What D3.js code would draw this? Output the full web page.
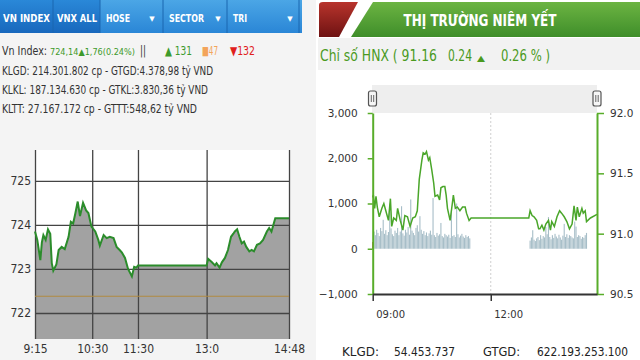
<!DOCTYPE html>
<html lang="vi">
  <head>
    <meta charset="UTF-8" />
    <title>VN Index - HNX</title>
    <script src="https://d3js.org/d3.v7.min.js"></script>
    <style>
      body { margin: 0; background: #fff; }
      svg { display: block; font-family: "DejaVu Sans", sans-serif; }
      .cond { font-family: "Liberation Sans Narrow", "DejaVu Sans Condensed", "DejaVu Sans", sans-serif; font-stretch: condensed; }
    </style>
  </head>
  <body>
    <div id="chart-container"></div>

    <script>
      // ---- VN Index (left chart) ----
      const vnTimes = ["9:15","9:18","9:22","9:24","9:26","9:29","9:32","9:35","9:37","9:39","9:43","9:46","9:50","9:54","9:59","10:02","10:05","10:08","10:11","10:14","10:18","10:22","10:25","10:29","10:34","10:38","10:40","10:45","10:49","10:53","10:58","11:02","11:06","11:09","11:13","11:17","11:22","11:25","11:28","11:30","13:00","13:02","13:07","13:11","13:13","13:17","13:20","13:24","13:28","13:32","13:35","13:37","13:40","13:43","13:46","13:49","13:52","13:56","13:59","14:02","14:06","14:10","14:14","14:19","14:22","14:25","14:30","14:48"];
      const vnValues = [723.85,723.66,723.2,723.6,723.77,723.66,723.9,723.8,723.13,722.96,723.1,723.43,723.5,723.45,723.73,724.07,724.03,724.27,724.53,724.2,724.5,724.33,724.27,723.96,723.85,723.66,723.53,723.77,723.7,723.73,723.7,723.5,723.43,723.37,723.25,723.0,722.83,723.05,723.03,723.08,723.08,723.23,723.15,723.08,723.13,723.03,723.15,723.25,723.43,723.73,723.8,723.85,723.9,723.73,723.58,723.62,723.5,723.4,723.43,723.4,723.55,723.58,723.66,723.85,723.93,723.85,724.15,724.15];
      const vnRef = 722.38;
      const vnYTicks = [722, 723, 724, 725];
      const vnXTicks = ["9:15", "10:30", "11:30", "13:00", "14:48"];
      const vnXLabels = ["9:15", "10:30", "11:30", "13:0", "14:48"];

      // ---- HNX (right chart) ----
      const hnxTimes = ["9:00","9:01","9:03","9:05","9:07","9:10","9:14","9:17","9:20","9:24","9:27","9:29","9:32","9:36","9:38","9:42","9:46","9:49","9:53","9:57","10:01","10:05","10:08","10:11","10:15","10:17","10:20","10:22","10:25","10:27","10:30","10:33","10:35","10:39","10:42","10:44","10:47","10:50","10:52","10:54","10:58","11:00","11:03","11:06","11:09","11:13","11:17","11:21","11:23","11:27","11:30","12:58","13:00","13:03","13:06","13:10","13:13","13:15","13:18","13:21","13:24","13:28","13:31","13:33","13:37","13:41","13:45","13:48","13:52","13:56","14:00","14:04","14:07","14:10","14:12","14:15","14:19","14:21","14:24","14:26","14:32","14:42"];
      const hnxValues = [91.30,91.32,91.21,91.31,91.22,91.14,91.21,91.25,91.19,91.11,91.29,91.06,91.13,91.11,91.21,91.11,91.03,91.15,91.14,91.06,91.13,91.14,91.19,91.45,91.61,91.67,91.66,91.68,91.61,91.63,91.53,91.42,91.31,91.32,91.28,91.38,91.39,91.39,91.32,91.21,91.11,91.19,91.32,91.21,91.22,91.19,91.22,91.22,91.17,91.11,91.13,91.13,91.19,91.15,91.14,91.11,91.04,91.04,91.07,91.03,91.08,91.11,91.03,91.10,91.06,91.14,91.19,91.17,91.14,91.10,91.04,91.08,91.23,91.11,91.22,91.14,91.21,91.17,91.19,91.10,91.13,91.16];
      // volume, one bar every 2 minutes from the session start
      const volMorningStart = "9:00";
      const volMorning = [150,380,300,420,350,280,460,390,640,330,410,300,370,1000,450,320,280,400,350,460,300,380,940,340,290,420,360,480,310,1090,400,350,300,460,520,380,720,420,330,390,300,360,280,340,400,310,1120,300,260,350,290,320,570,280,250,330,300,270,310,240,850,280,300,260,1000,320,250,290,330,270,240,300,260,280,230];
      const volAfternoonStart = "13:00";
      const volAfternoon = [180,250,410,200,170,230,260,190,300,220,280,250,480,320,700,260,210,300,240,330,270,230,310,250,200,290,550,260,320,240,300,280,250,230,600,490,260,300,280,220,260,240,300,350];
      const volStep = 2;
      const volTicks = [-1000, 0, 1000, 2000, 3000];
      const hnxTicks = [90.5, 91.0, 91.5, 92.0];
      const hnxXTicks = ["9:00", "12:00"];
      const hnxXLabels = ["09:00", "12:00"];

      const parseTime = d3.timeParse("%H:%M");

      const svg = d3
        .select("#chart-container")
        .append("svg")
        .attr("width", 640)
        .attr("height", 360);

      const defs = svg.append("defs");
      function vGrad(id, top, bottom) {
        const g = defs.append("linearGradient").attr("id", id)
          .attr("x1", 0).attr("y1", 0).attr("x2", 0).attr("y2", 1);
        g.append("stop").attr("offset", "0%").attr("stop-color", top);
        g.append("stop").attr("offset", "100%").attr("stop-color", bottom);
      }
      vGrad("blueBar", "#4ba6e6", "#2a86d6");
      vGrad("blueTab", "#2a88d8", "#1868bd");
      vGrad("greenBar", "#6cb442", "#3f8e2a");
      vGrad("redTab", "#b8342c", "#6e1212");

      // ===== LEFT PANEL =====
      svg.append("rect").attr("x", 0).attr("y", 0).attr("width", 316).attr("height", 360).attr("fill", "#f4f4f4");

      // tab bar
      svg.append("rect").attr("x", 0).attr("y", 0).attr("width", 302).attr("height", 33).attr("fill", "url(#blueBar)");
      svg.append("rect").attr("x", 0).attr("y", 0).attr("width", 100).attr("height", 33).attr("fill", "url(#blueTab)");
      [53, 100, 163, 227, 299].forEach((sx) => {
        svg.append("line").attr("x1", sx).attr("x2", sx).attr("y1", 0).attr("y2", 33)
          .attr("stroke", "#1a66b0").attr("stroke-width", 1);
      });
      const tabs = [
        { t: "VN INDEX", x: 3, w: 47 },
        { t: "VNX ALL", x: 57, w: 40 },
        { t: "HOSE", x: 106, w: 24 },
        { t: "SECTOR", x: 169, w: 35 },
        { t: "TRI", x: 233, w: 14 }
      ];
      tabs.forEach((d) => {
        svg.append("text").attr("class", "cond").attr("x", d.x).attr("y", 22)
          .attr("textLength", d.w).attr("lengthAdjust", "spacingAndGlyphs")
          .attr("font-size", 10).attr("font-weight", "bold").attr("fill", "#fff").text(d.t);
      });
      [152, 218, 290].forEach((ax) => {
        svg.append("text").attr("x", ax).attr("y", 21).attr("text-anchor", "middle")
          .attr("font-size", 7).attr("fill", "#fff").text("▼");
      });

      // info lines
      function info(x, y, w, txt, color) {
        return svg.append("text").attr("class", "cond").attr("x", x).attr("y", y)
          .attr("textLength", w).attr("lengthAdjust", "spacingAndGlyphs")
          .attr("font-size", 12).attr("fill", color).text(txt);
      }
      info(2, 55, 45, "Vn Index:", "#333");
      // the index change: shrink the font until it fits its slot
      const idxText = svg.append("text").attr("class", "cond").attr("x", 50).attr("y", 55)
        .attr("font-size", 12).attr("fill", "#3d9a2b").text("724,14▲1,76(0.24%)");
      const natural = idxText.node().getComputedTextLength();
      if (natural > 85) idxText.attr("font-size", (12 * 85) / natural);
      info(140, 55, 6, "||", "#333");
      info(165, 55, 27, "▲ 131", "#3d9a2b");
      info(202, 55, 16, "■47", "#f3a45a");
      info(230, 55, 25, "▼132", "#e0201c");
      info(2, 75, 211, "KLGD: 214.301.802 cp - GTGD:4.378,98 tỷ VND", "#333");
      info(2, 94, 206, "KLKL: 187.134.630 cp - GTKL:3.830,36 tỷ VND", "#333");
      info(2, 113, 195, "KLTT: 27.167.172 cp - GTTT:548,62 tỷ VND", "#333");

      // chart
      const vnX = d3.scaleTime().domain([parseTime("9:15"), parseTime("14:48")]).range([35, 289]);
      const vnY = d3.scaleLinear().domain([721.41, 725.7]).range([339, 150]);
      const vnData = vnTimes.map((t, i) => ({ t: parseTime(t), v: vnValues[i] }));

      svg.append("rect").attr("x", 35).attr("y", 150).attr("width", 254).attr("height", 189).attr("fill", "#fff");

      svg.append("path").datum(vnData)
        .attr("fill", "#a2a2a2")
        .attr("d", d3.area().x((d) => vnX(d.t)).y0(339).y1((d) => vnY(d.v)));

      // gridlines
      svg.append("g").attr("transform", "translate(35,0)")
        .call(d3.axisLeft(vnY).tickValues(vnYTicks).tickSize(-254).tickPadding(4).tickFormat(d3.format("d")))
        .call((g) => g.select(".domain").remove())
        .call((g) => g.selectAll(".tick line").attr("stroke", "#444").attr("stroke-width", 1.3))
        .call((g) => g.selectAll(".tick text").attr("font-size", 12).attr("fill", "#333")
          .attr("font-family", "DejaVu Sans").attr("class", "cond"));

      svg.append("g").attr("transform", "translate(0,339)")
        .call(d3.axisBottom(vnX).tickValues(vnXTicks.map(parseTime)).tickSize(-189).tickPadding(5)
          .tickFormat((d, i) => vnXLabels[i]))
        .call((g) => g.select(".domain").remove())
        .call((g) => g.selectAll(".tick line").attr("stroke", "#444").attr("stroke-width", 1.3))
        .call((g) => g.selectAll(".tick text").attr("font-size", 12).attr("fill", "#333")
          .attr("font-family", "DejaVu Sans").attr("class", "cond"));

      // reference line (previous close)
      svg.append("line").attr("x1", 35).attr("x2", 289).attr("y1", vnY(vnRef)).attr("y2", vnY(vnRef))
        .attr("stroke", "#b08a40").attr("stroke-width", 1.2);

      svg.append("path").datum(vnData)
        .attr("fill", "none").attr("stroke", "#2b8c2b").attr("stroke-width", 2)
        .attr("d", d3.line().x((d) => vnX(d.t)).y((d) => vnY(d.v)));

      // ===== RIGHT PANEL =====
      svg.append("rect").attr("x", 318).attr("y", 0).attr("width", 322).attr("height", 360).attr("fill", "#fff");
      svg.append("path").attr("d", "M319,5 Q319,2 323,2 L358,2 L339,37 L319,37 Z").attr("fill", "url(#redTab)");
      svg.append("path").attr("d", "M373,2 L640,2 L640,37 L351,37 Z").attr("fill", "url(#greenBar)");
      svg.append("text").attr("class", "cond").attr("x", 480).attr("y", 26).attr("text-anchor", "middle")
        .attr("textLength", 153).attr("lengthAdjust", "spacingAndGlyphs")
        .attr("font-size", 15).attr("font-weight", "bold").attr("fill", "#fff").text("THỊ TRƯỜNG NIÊM YẾT");

      svg.append("rect").attr("x", 318).attr("y", 38).attr("width", 322).attr("height", 32).attr("fill", "#f2f2f2");
      function hdr(x, w, txt, size) {
        svg.append("text").attr("class", "cond").attr("x", x).attr("y", 61)
          .attr("textLength", w).attr("lengthAdjust", "spacingAndGlyphs")
          .attr("font-size", size).attr("fill", "#4a9a1e").text(txt);
      }
      hdr(320, 117, "Chỉ số HNX ( 91.16", 15);
      hdr(448, 24, "0.24", 15);
      hdr(477, 8, "▲", 8);
      hdr(501, 49, "0.26 % )", 15);

      const rx = d3.scaleTime().domain([parseTime("9:00"), parseTime("14:42")]).range([372.7, 597]);
      const yVol = d3.scaleLinear().domain([-1000, 3000]).range([294, 113]);
      const yIdx = d3.scaleLinear().domain([90.5, 92]).range([294, 113]);

      // navigator strip
      svg.append("rect").attr("x", 372).attr("y", 85).attr("width", 225).attr("height", 28).attr("fill", "#eeeeee");
      [372.5, 597].forEach((hx) => {
        svg.append("rect").attr("x", hx - 4).attr("y", 91).attr("width", 8).attr("height", 15).attr("rx", 2)
          .attr("fill", "#f6f6f6").attr("stroke", "#555").attr("stroke-width", 1.2);
        [-1.2, 1.2].forEach((o) => {
          svg.append("line").attr("x1", hx + o).attr("x2", hx + o).attr("y1", 95).attr("y2", 102)
            .attr("stroke", "#555").attr("stroke-width", 0.9);
        });
      });

      // dotted 12:00 gridline
      svg.append("line").attr("x1", rx(parseTime("12:00"))).attr("x2", rx(parseTime("12:00")))
        .attr("y1", 113).attr("y2", 294).attr("stroke", "#cfcfcf").attr("stroke-dasharray", "2,2");

      // volume bars
      const volData = volMorning.map((v, i) => ({ t: d3.timeMinute.offset(parseTime(volMorningStart), i * volStep), v: v }))
        .concat(volAfternoon.map((v, i) => ({ t: d3.timeMinute.offset(parseTime(volAfternoonStart), i * volStep), v: v })));
      svg.append("g").selectAll("rect").data(volData).enter().append("rect")
        .attr("x", (d) => rx(d.t) - 0.55)
        .attr("width", 1.1)
        .attr("y", (d) => yVol(d.v))
        .attr("height", (d) => yVol(0) - yVol(d.v))
        .attr("fill", (d, i) => (i === 0 ? "#d8402a" : "#a7bec8"));

      // index line
      const hnxData = hnxTimes.map((t, i) => ({ t: parseTime(t), v: hnxValues[i] }));
      svg.append("path").datum(hnxData)
        .attr("fill", "none").attr("stroke", "#4aa62a").attr("stroke-width", 1.5)
        .attr("d", d3.line().x((d) => rx(d.t)).y((d) => yIdx(d.v)));

      // axes
      svg.append("g").attr("transform", "translate(372.7,0)")
        .call(d3.axisLeft(yVol).tickValues(volTicks).tickSizeInner(5).tickSizeOuter(0).tickPadding(10).tickFormat(d3.format(",")))
        .call((g) => g.select(".domain").attr("stroke", "#58ad2a").attr("stroke-width", 2))
        .call((g) => g.selectAll(".tick line").attr("stroke", "#58ad2a").attr("stroke-width", 1.5))
        .call((g) => g.selectAll(".tick text").attr("font-size", 10.5).attr("fill", "#333").attr("font-family", "DejaVu Sans"));

      svg.append("g").attr("transform", "translate(597,0)")
        .call(d3.axisRight(yIdx).tickValues(hnxTicks).tickSizeInner(7).tickSizeOuter(0).tickPadding(6).tickFormat(d3.format(".1f")))
        .call((g) => g.select(".domain").attr("stroke", "#58ad2a").attr("stroke-width", 2))
        .call((g) => g.selectAll(".tick line").attr("stroke", "#58ad2a").attr("stroke-width", 1.5))
        .call((g) => g.selectAll(".tick text").attr("font-size", 10.5).attr("fill", "#333").attr("font-family", "DejaVu Sans"));

      svg.append("g").attr("transform", "translate(0,294)")
        .call(d3.axisBottom(rx).tickValues(hnxXTicks.map(parseTime)).tickSizeInner(7).tickSizeOuter(0).tickPadding(10)
          .tickFormat((d, i) => hnxXLabels[i]))
        .call((g) => g.select(".domain").attr("stroke", "#333").attr("stroke-width", 2))
        .call((g) => g.selectAll(".tick line").attr("stroke", "#333").attr("stroke-width", 1.5))
        .call((g) => g.selectAll(".tick text").attr("font-size", 10).attr("fill", "#333")
          .attr("font-family", "DejaVu Sans").attr("text-anchor", "start").attr("dx", 3));

      // totals
      function total(x, w, txt) {
        svg.append("text").attr("class", "cond").attr("x", x).attr("y", 356)
          .attr("textLength", w).attr("lengthAdjust", "spacingAndGlyphs")
          .attr("font-size", 13).attr("fill", "#222").text(txt);
      }
      total(342, 37, "KLGD:");
      total(394, 61, "54.453.737");
      total(483, 37, "GTGD:");
      total(537, 91, "622.193.253.100");
    </script>
  </body>
</html>
